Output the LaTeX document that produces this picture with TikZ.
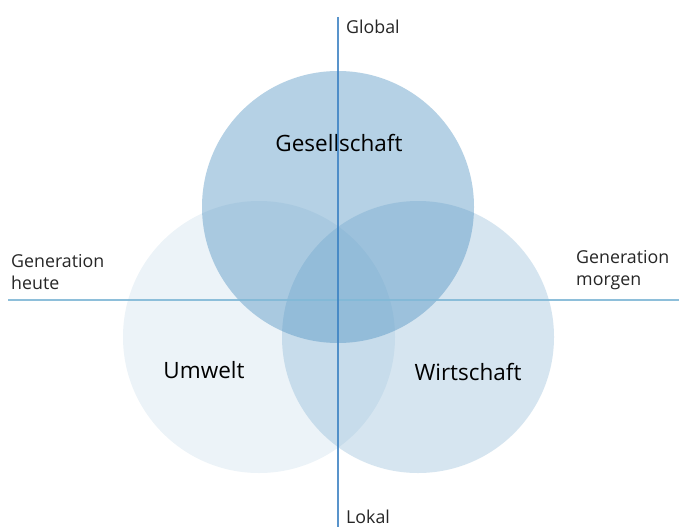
\documentclass[tikz,border=0pt]{standalone}
\usepackage{fontspec}
\setmainfont{Open Sans}
\usepackage{xcolor}
\definecolor{Col1}{RGB}{70,140,190}
\definecolor{Col2}{RGB}{60,130,195}
\definecolor{Col3}{RGB}{130,185,215}
\usepackage{tikz}
\usetikzlibrary{shapes}
\tikzstyle{Circ}=[circle,minimum size=272pt,inner sep=0pt,fill=Col1]
\tikzstyle{Label}=[font=\fontsize{22.5}{26}\selectfont,text=black]
\tikzstyle{Axis}=[font=\fontsize{17.8}{22}\selectfont,text=black!85,
inner sep=0pt,align=left]
\tikzstyle{Edge}=[line width=1.2pt]

\begin{document}
\begin{tikzpicture}[x=1pt,y=-1pt]
    \useasboundingbox(0,0)rectangle(679,527);
    \fill[white](0,0)rectangle(679,527);
    % the three circles
    \node[Circ,fill opacity=.10](U)at(259,337){};
    \node[Circ,fill opacity=.22](W)at(418,337){};
    \node[Circ,fill opacity=.40](G)at(338,207){};
    \node[Label](g)at(339,143){Gesellschaft};
    \node[Label](u)at(204,370){Umwelt};
    \node[Label](w)at(468,372){Wirtschaft};
    % axes
    \coordinate(top)at(338,17);
    \coordinate(bot)at(338,527);
    \coordinate(lft)at(8,300);
    \coordinate(rgt)at(679,300);
    \draw[Edge,draw=Col3,opacity=.9](lft)--(rgt);
    \draw[Edge,draw=Col2,opacity=.85](top)--(bot);
    \node[Axis,anchor=west](global)at(346,27){Global};
    \node[Axis,anchor=base west](lokal)at(346,523){Lokal};
    \node[Axis,anchor=south west](heute)at(11,290){Generation\\heute};
    \node[Axis,anchor=south west](morgen)at(576,290){Generation\\morgen};
\end{tikzpicture}
\end{document}
